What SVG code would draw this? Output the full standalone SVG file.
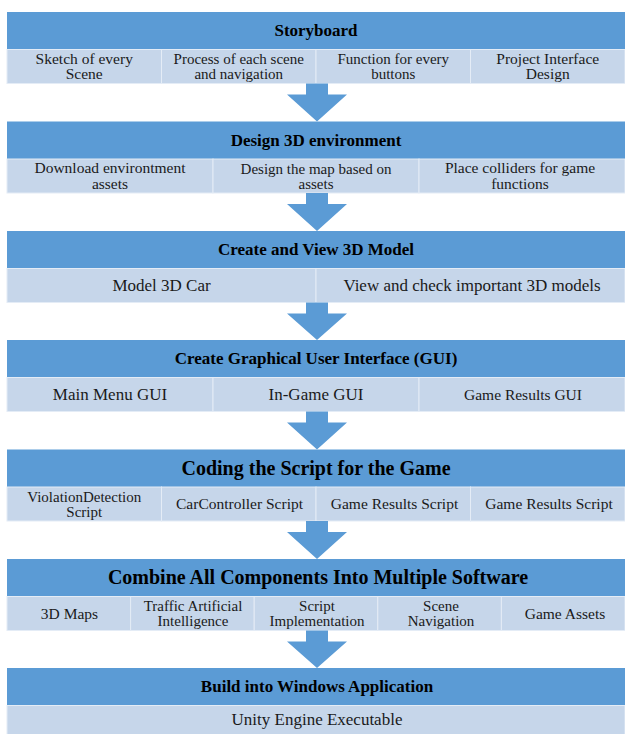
<svg xmlns="http://www.w3.org/2000/svg" width="625" height="734" viewBox="0 0 625 734" font-family="'Liberation Serif', 'DejaVu Serif', serif">
<style>
.hdr{fill:#5B9BD5;}
.cell{fill:#C6D6EA;stroke:#E4ECF6;stroke-width:1;}
.arrow{fill:#5B9BD5;}
text{font-family:'Liberation Serif','DejaVu Serif',serif;fill:#1a1a1a;text-anchor:middle;}
.ht{font-weight:bold;font-size:17px;fill:#000;}
.hb{font-weight:bold;font-size:20px;fill:#000;}
.t{font-size:17px;}
.t2{font-size:15.5px;}
.s{font-size:15.5px;}
.s2{font-size:15px;}
</style>
<rect width="625" height="734" fill="#fff"/>

<g id="storyboard">
<rect class="hdr" x="7" y="12" width="618" height="37.5"/>
<text class="ht" x="316" y="36.4">Storyboard</text>
<rect class="cell" x="7" y="49.5" width="154.5" height="34"/>
<rect class="cell" x="161.5" y="49.5" width="154.5" height="34"/>
<rect class="cell" x="316" y="49.5" width="154.5" height="34"/>
<rect class="cell" x="470.5" y="49.5" width="154.5" height="34"/>
<text class="t2" x="84.25" y="63.9">Sketch of every</text>
<text class="t2" x="84.25" y="79.4">Scene</text>
<text class="s2" x="238.75" y="64">Process of each scene</text>
<text class="s2" x="238.75" y="79">and navigation</text>
<text class="s2" x="393.25" y="64">Function for every</text>
<text class="s2" x="393.25" y="79">buttons</text>
<text class="t2" x="547.75" y="63.9">Project Interface</text>
<text class="t2" x="547.75" y="79.4">Design</text>
</g>

<g id="design-3d-environment">
<rect class="hdr" x="7" y="121.5" width="618" height="37.5"/>
<text class="ht" x="316" y="145.9">Design 3D environment</text>
<rect class="cell" x="7" y="159" width="206" height="34"/>
<rect class="cell" x="213" y="159" width="206" height="34"/>
<rect class="cell" x="419" y="159" width="206" height="34"/>
<text class="t2" x="110" y="173.4">Download environtment</text>
<text class="t2" x="110" y="188.9">assets</text>
<text class="s2" x="316" y="173.5">Design the map based on</text>
<text class="s2" x="316" y="188.5">assets</text>
<text class="t2" x="520" y="173.4">Place colliders for game</text>
<text class="t2" x="520" y="188.9">functions</text>
</g>

<g id="create-view-3d-model">
<rect class="hdr" x="7" y="231" width="618" height="37.5"/>
<text class="ht" x="316" y="255.4">Create and View 3D Model</text>
<rect class="cell" x="7" y="268.5" width="309" height="34"/>
<rect class="cell" x="316" y="268.5" width="309" height="34"/>
<text class="t" x="161.5" y="291.1">Model 3D Car</text>
<text class="t" x="472" y="291.1">View and check important 3D models</text>
</g>

<g id="create-gui">
<rect class="hdr" x="7" y="340" width="618" height="37.5"/>
<text class="ht" x="316" y="364.4">Create Graphical User Interface (GUI)</text>
<rect class="cell" x="7" y="377.5" width="206" height="34"/>
<rect class="cell" x="213" y="377.5" width="206" height="34"/>
<rect class="cell" x="419" y="377.5" width="206" height="34"/>
<text class="t" x="110" y="400.1">Main Menu GUI</text>
<text class="t" x="316" y="400.1">In-Game GUI</text>
<text class="s" x="523" y="399.6">Game Results GUI</text>
</g>

<g id="coding-script">
<rect class="hdr" x="7" y="449.5" width="618" height="37.5"/>
<text class="hb" x="316" y="474.9">Coding the Script for the Game</text>
<rect class="cell" x="7" y="487" width="154.5" height="34"/>
<rect class="cell" x="161.5" y="487" width="154.5" height="34"/>
<rect class="cell" x="316" y="487" width="154.5" height="34"/>
<rect class="cell" x="470.5" y="487" width="154.5" height="34"/>
<text class="s2" x="84.25" y="501.5">ViolationDetection</text>
<text class="s2" x="84.25" y="516.5">Script</text>
<text class="s" x="239.5" y="509.1">CarController Script</text>
<text class="s" x="394.5" y="509.1">Game Results Script</text>
<text class="s" x="549" y="509.1">Game Results Script</text>
</g>

<g id="combine-components">
<rect class="hdr" x="7" y="559" width="618" height="37.5"/>
<text class="hb" x="318" y="584.4">Combine All Components Into Multiple Software</text>
<rect class="cell" x="7" y="596.5" width="123.6" height="34"/>
<rect class="cell" x="130.6" y="596.5" width="123.6" height="34"/>
<rect class="cell" x="254.2" y="596.5" width="123.6" height="34"/>
<rect class="cell" x="377.8" y="596.5" width="123.6" height="34"/>
<rect class="cell" x="501.4" y="596.5" width="123.6" height="34"/>
<text class="s" x="69.5" y="618.6">3D Maps</text>
<text class="s2" x="193" y="611">Traffic Artificial</text>
<text class="s2" x="193" y="626">Intelligence</text>
<text class="s2" x="317" y="611">Script</text>
<text class="s2" x="317" y="626">Implementation</text>
<text class="s2" x="441" y="611">Scene</text>
<text class="s2" x="441" y="626">Navigation</text>
<text class="s" x="565" y="618.6">Game Assets</text>
</g>

<g id="build-windows">
<rect class="hdr" x="7" y="668" width="618" height="37.5"/>
<text class="ht" x="317" y="692.4">Build into Windows Application</text>
<rect class="cell" x="7" y="705.5" width="618" height="30"/>
<text class="t" x="317" y="725.3">Unity Engine Executable</text>
</g>

<g id="connectors">
<polygon class="arrow" points="306,83.5 328,83.5 328,94.5 347,94.5 317,121.5 287,94.5 306,94.5"/>
<polygon class="arrow" points="306,193 328,193 328,204 347,204 317,231 287,204 306,204"/>
<polygon class="arrow" points="306,302.5 328,302.5 328,313.5 347,313.5 317,340 287,313.5 306,313.5"/>
<polygon class="arrow" points="306,411.5 328,411.5 328,422.5 347,422.5 317,449.5 287,422.5 306,422.5"/>
<polygon class="arrow" points="306,521 328,521 328,532 347,532 317,559 287,532 306,532"/>
<polygon class="arrow" points="306,630.5 328,630.5 328,641.5 347,641.5 317,668 287,641.5 306,641.5"/>
</g>
</svg>
